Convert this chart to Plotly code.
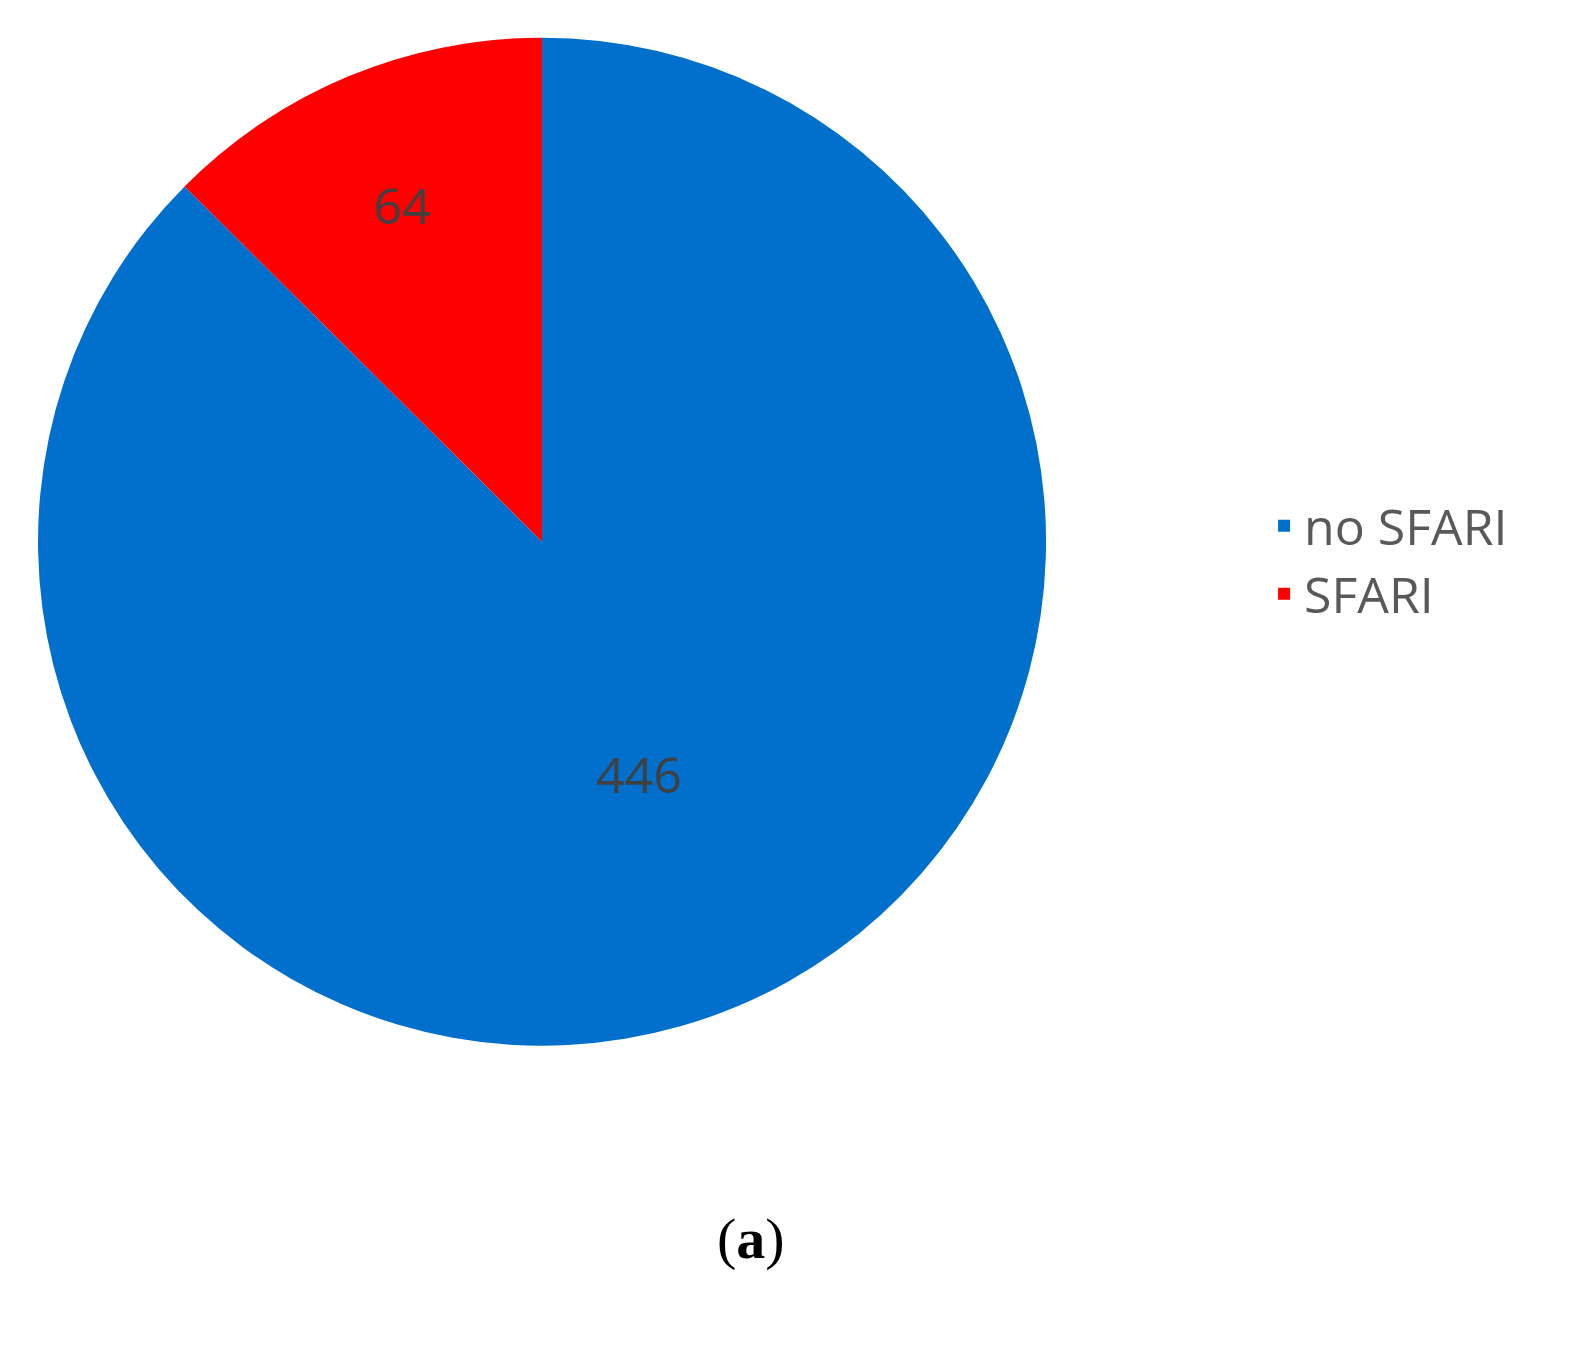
import plotly.graph_objects as go

labels = ["no SFARI", "SFARI"]
values = [446, 64]
colors = ["#0070cc", "#ff0000"]

fig = go.Figure(go.Pie(
    labels=labels, values=values, sort=False, direction="clockwise", rotation=0,
    marker=dict(colors=colors, line=dict(color="white", width=0)),
    textinfo="value", textposition="inside", insidetextorientation="horizontal",
    textfont=dict(size=50, color="#404040", family="Open Sans"),
    domain=dict(x=[0.019, 0.657], y=[0.229, 0.978]),
))
fig.update_layout(
    width=1580, height=1346, margin=dict(l=0, r=0, t=0, b=0),
    paper_bgcolor="white",
    legend=dict(x=0.795, y=0.59, yanchor="middle", xanchor="left",
                font=dict(size=50, color="#595959", family="Open Sans"),
                itemsizing="constant", tracegroupgap=20),
    annotations=[dict(text="(<b>a</b>)", x=0.47, y=0.06, xref="paper", yref="paper",
                      showarrow=False, font=dict(size=58, color="black", family="Liberation Serif"))],
)
fig.write_html("out.html")
